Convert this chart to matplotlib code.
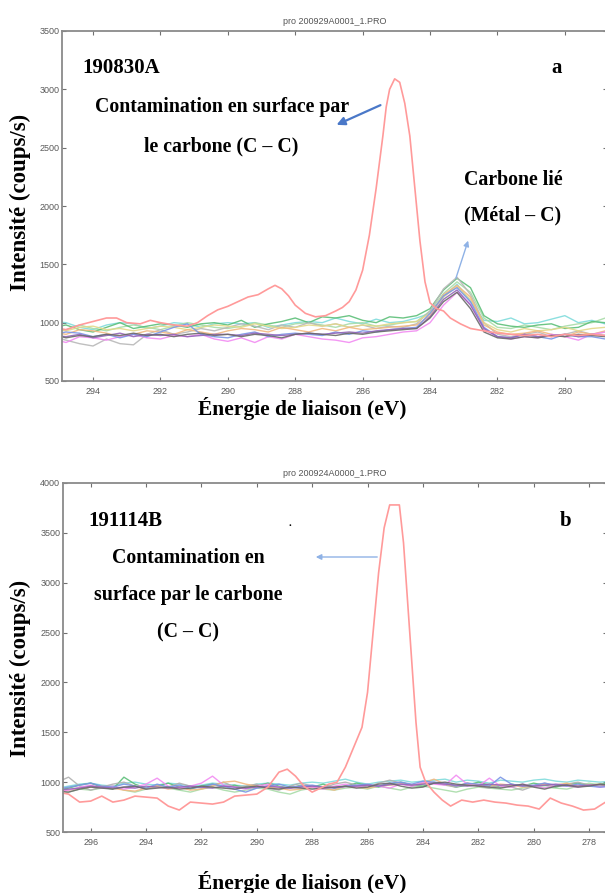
import numpy as np
import matplotlib
matplotlib.use("Agg")
import matplotlib.pyplot as plt

# ---------------- data ----------------
# Panel a (190830A)
xa_grid = np.round(np.arange(295.2, 278.7, -0.4), 1)   # 42 sample energies (eV)

a_cyan = [1010, 1000, 960, 940, 980, 1000, 990, 950, 970, 1000,
          990, 960, 990, 1000, 990, 1000, 960, 980, 1000, 1010,
          1000, 1040, 1010, 990, 1030, 1000, 1010, 1040, 1080, 1220,
          1330, 1180, 1020, 1010, 1040, 990, 1000, 1030, 1060, 1000,
          1020, 990]
a_green = [960, 980, 940, 920, 960, 1000, 950, 970, 990, 980,
           960, 990, 1000, 980, 1020, 960, 990, 1010, 1040, 1000,
           1050, 1040, 1060, 1020, 1000, 1050, 1040, 1060, 1120, 1280,
           1380, 1300, 1060, 990, 970, 960, 980, 990, 950, 960,
           1010, 1000]
a_lgreen = [920, 940, 980, 950, 930, 960, 980, 960, 940, 970,
            1000, 980, 960, 950, 970, 1000, 980, 960, 990, 1000,
            980, 960, 990, 1000, 970, 980, 1000, 1010, 1100, 1250,
            1350, 1260, 1040, 960, 950, 980, 960, 940, 970, 990,
            1000, 1040]
a_gray = [880, 850, 820, 800, 860, 820, 810, 900, 940, 900,
          920, 950, 930, 960, 990, 970, 940, 980, 960, 1000,
          970, 990, 960, 980, 950, 970, 960, 990, 1100, 1290,
          1390, 1240, 1000, 900, 880, 900, 920, 880, 900, 930,
          900, 920]
a_purple = [890, 880, 900, 870, 890, 910, 880, 900, 890, 900,
            880, 890, 900, 900, 890, 910, 900, 890, 900, 910,
            900, 910, 920, 910, 930, 940, 950, 950, 1050, 1200,
            1280, 1150, 950, 880, 870, 900, 880, 890, 900, 880,
            900, 890]
a_magenta = [860, 830, 880, 870, 850, 880, 900, 870, 860, 890,
             880, 900, 860, 840, 870, 830, 880, 860, 900, 880,
             860, 850, 830, 870, 880, 900, 920, 930, 1000, 1150,
             1260, 1160, 940, 880, 860, 880, 870, 900, 880, 850,
             900, 920]
a_blue = [900, 920, 910, 880, 900, 870, 900, 880, 920, 960,
          990, 900, 880, 870, 900, 920, 880, 900, 910, 900,
          890, 920, 900, 930, 920, 940, 950, 960, 1080, 1230,
          1300, 1180, 960, 880, 870, 900, 880, 860, 900, 880,
          880, 860]
a_orange = [920, 900, 940, 930, 910, 880, 900, 930, 920, 900,
            940, 920, 900, 930, 950, 940, 920, 960, 940, 920,
            950, 930, 960, 940, 950, 960, 970, 980, 1060, 1240,
            1320, 1220, 980, 920, 900, 910, 930, 900, 880, 920,
            900, 930]
a_dgray = [900, 870, 890, 880, 900, 890, 910, 890, 900, 880,
           900, 910, 890, 900, 880, 900, 890, 870, 900, 910,
           900, 890, 910, 900, 920, 930, 940, 950, 1040, 1180,
           1260, 1120, 920, 870, 860, 880, 870, 890, 880, 900,
           890, 880]
a_yellow = [950, 930, 960, 970, 940, 950, 930, 950, 970, 960,
            940, 960, 980, 970, 960, 990, 970, 950, 960, 980,
            970, 990, 960, 980, 970, 990, 1000, 1010, 1080, 1220,
            1310, 1200, 1000, 940, 920, 950, 930, 940, 960, 930,
            950, 960]

a_red_x = [295.2, 294.8, 294.4, 294.0, 293.6, 293.3, 293.0, 292.6, 292.3, 292.0,
           291.6, 291.2, 290.9, 290.6, 290.3, 290.0, 289.7, 289.4, 289.1, 288.8,
           288.6, 288.4, 288.2, 288.0, 287.7, 287.4, 287.1, 286.8, 286.6, 286.4,
           286.2, 286.0, 285.8, 285.6, 285.4, 285.3, 285.2, 285.05, 284.9, 284.75,
           284.6, 284.45, 284.3, 284.15, 284.0, 283.8, 283.6, 283.4, 283.1, 282.8,
           282.4, 282.0, 281.6, 281.2, 280.8, 280.4, 280.0, 279.6, 279.2, 278.8]
a_red_y = [960, 940, 980, 1010, 1040, 1040, 1000, 990, 1020, 1000,
           980, 970, 1000, 1060, 1110, 1140, 1180, 1220, 1240, 1290,
           1320, 1290, 1230, 1150, 1080, 1050, 1060, 1100, 1130, 1180,
           1280, 1450, 1750, 2150, 2600, 2850, 3000, 3090, 3060, 2880,
           2600, 2150, 1700, 1350, 1170, 1120, 1100, 1040, 990, 950,
           930, 910, 900, 890, 900, 880, 900, 890, 900, 890]

# Panel b (191114B)
xb_grid = np.round(np.arange(297.2, 277.1, -0.4), 1)   # 51 sample energies (eV)

b_gray = [1000, 1050, 960, 920, 950, 980, 1000, 960, 930, 970,
          950, 990, 960, 940, 970, 1000, 950, 960, 980, 940,
          920, 960, 990, 960, 940, 980, 1000, 970, 950, 990,
          1020, 990, 960, 980, 1000, 970, 950, 990, 960, 940,
          970, 950, 920, 960, 990, 960, 980, 1000, 970, 960,
          980]
b_green = [920, 940, 970, 990, 950, 930, 1050, 980, 940, 960,
           990, 950, 930, 960, 980, 950, 970, 940, 960, 990,
           960, 940, 970, 950, 980, 940, 960, 990, 970, 950,
           980, 1000, 970, 960, 990, 980, 950, 970, 1000, 970,
           950, 980, 960, 990, 970, 950, 980, 990, 970, 980,
           990]
b_magenta = [900, 920, 950, 970, 940, 960, 930, 950, 980, 1040,
             960, 940, 960, 990, 1060, 970, 950, 930, 960, 980,
             950, 940, 960, 950, 930, 960, 980, 950, 970, 960,
             940, 980, 960, 1000, 980, 970, 1070, 980, 960, 1040,
             960, 950, 980, 960, 940, 970, 960, 950, 970, 950,
             960]
b_blue = [930, 950, 970, 990, 960, 950, 980, 960, 940, 980,
          950, 970, 940, 950, 980, 960, 930, 900, 940, 960,
          980, 950, 960, 970, 950, 940, 960, 970, 980, 960,
          990, 1000, 980, 1010, 1000, 990, 960, 990, 980, 960,
          1050, 980, 960, 970, 990, 970, 960, 980, 960, 950,
          960]
b_orange = [900, 920, 940, 950, 960, 940, 920, 910, 940, 960,
            930, 950, 920, 930, 960, 1000, 1010, 980, 960, 950,
            940, 920, 930, 950, 940, 920, 960, 950, 940, 960,
            970, 980, 970, 990, 1030, 980, 960, 990, 970, 960,
            980, 970, 950, 960, 980, 970, 990, 960, 970, 980,
            960]
b_purple = [920, 930, 940, 960, 950, 940, 950, 940, 960, 950,
            940, 950, 960, 950, 940, 960, 950, 940, 950, 960,
            950, 940, 950, 960, 950, 945, 955, 960, 970, 960,
            975, 980, 970, 980, 990, 980, 970, 960, 970, 980,
            970, 975, 965, 960, 970, 980, 970, 960, 970, 975,
            970]
b_dgray = [910, 900, 930, 950, 940, 930, 950, 960, 930, 940,
           950, 930, 940, 960, 950, 940, 930, 950, 960, 940,
           930, 950, 940, 930, 940, 950, 960, 940, 950, 980,
           990, 960, 940, 950, 990, 1000, 980, 970, 960, 950,
           940, 960, 980, 950, 930, 960, 970, 950, 960, 980,
           970]
b_cyan = [940, 960, 980, 990, 970, 960, 990, 1000, 980, 970,
          990, 980, 960, 970, 990, 980, 970, 960, 980, 990,
          980, 970, 990, 1000, 990, 1010, 1030, 1000, 980, 1000,
          1010, 1020, 1000, 1010, 1020, 1030, 1000, 1020, 1010, 990,
          1020, 1010, 1000, 1020, 1030, 1010, 1000, 1020, 1010, 1000,
          1010]
b_lgreen = [880, 900, 930, 920, 940, 960, 920, 900, 930, 960,
            940, 920, 900, 930, 950, 920, 900, 920, 940, 930,
            900, 880, 920, 940, 930, 920, 940, 950, 930, 960,
            940, 920, 950, 960, 940, 920, 900, 930, 950, 940,
            930, 920, 940, 960, 950, 940, 930, 960, 990, 970,
            960]

b_red_x = [297.2, 296.8, 296.4, 296.0, 295.6, 295.2, 294.8, 294.4, 294.0, 293.6,
           293.2, 292.8, 292.4, 292.0, 291.6, 291.2, 290.8, 290.4, 290.0, 289.6,
           289.2, 288.9, 288.6, 288.3, 288.0, 287.7, 287.4, 287.1, 286.8, 286.5,
           286.2, 286.0, 285.8, 285.6, 285.4, 285.2, 285.0, 284.85, 284.7, 284.55,
           284.4, 284.25, 284.1, 283.9, 283.6, 283.3, 283.0, 282.6, 282.2, 281.8,
           281.4, 281.0, 280.6, 280.2, 279.8, 279.4, 279.0, 278.6, 278.2, 277.8,
           277.4]
b_red_y = [900, 880, 800, 810, 860, 800, 820, 860, 850, 840,
           760, 720, 800, 790, 780, 800, 860, 870, 880, 950,
           1100, 1130, 1060, 960, 900, 940, 980, 1000, 1150, 1350,
           1550, 1900, 2500, 3100, 3550, 3780, 3780, 3780, 3400, 2800,
           2200, 1600, 1150, 1000, 900, 820, 760, 820, 800, 820,
           800, 790, 770, 760, 730, 840, 790, 760, 720, 730,
           800]

a_ticks_x = [294, 292, 290, 288, 286, 284, 282, 280]
b_ticks_x = [296, 294, 292, 290, 288, 286, 284, 282, 280, 278]
a_ticks_y = [500, 1000, 1500, 2000, 2500, 3000, 3500]
b_ticks_y = [500, 1000, 1500, 2000, 2500, 3000, 3500, 4000]

# ---------------- style ----------------
W, H = 605, 893
fig = plt.figure(figsize=(W / 100, H / 100), dpi=100)
fig.patch.set_facecolor("white")

SERIF = ["Liberation Serif", "DejaVu Serif"]
SANS = ["Liberation Sans", "DejaVu Sans"]
RED = "#ff9a9a"


def fx(px):
    return px / W


def fy(py):
    return 1 - py / H


def style_axes(ax, xlim, ylim, xt, yt, title):
    ax.set_xlim(*xlim)
    ax.set_ylim(*ylim)
    ax.set_xticks(xt)
    ax.set_yticks(yt)
    ax.set_xticklabels([str(v) for v in xt], fontfamily=SANS)
    ax.set_yticklabels([str(v) for v in yt], fontfamily=SANS)
    ax.tick_params(direction="in", length=3, width=0.8, colors="#707070",
                   labelcolor="#5a5a5a", labelsize=6.5, top=True, right=True)
    ax.tick_params(axis="x", pad=4)
    ax.tick_params(axis="y", pad=2)
    for s in ax.spines.values():
        s.set_color("#8a8a8a")
        s.set_linewidth(1.3)
    ax.set_title(title, fontsize=6.5, color="#555555", pad=5, fontfamily=SANS)


def add_axes_px(left, top, right, bottom):
    return fig.add_axes([fx(left), fy(bottom), fx(right) - fx(left), (bottom - top) / H])


# ---- panel a ----
axa = add_axes_px(62, 31, 607, 381)
a_series = [(a_cyan, "#80dcdc"), (a_lgreen, "#a8dca8"), (a_green, "#5cbf78"),
            (a_gray, "#b8b8b8"), (a_yellow, "#e3d98a"), (a_orange, "#f2b880"),
            (a_magenta, "#f28cf2"), (a_blue, "#7a95e6"), (a_purple, "#9466b8"),
            (a_dgray, "#6a6a6a")]
for ys, c in a_series:
    axa.plot(xa_grid, ys, color=c, lw=1.0, alpha=0.9)
axa.plot(a_red_x, a_red_y, color=RED, lw=1.2)
style_axes(axa, (294.92, 278.75), (500, 3500), a_ticks_x, a_ticks_y,
           "pro 200929A0001_1.PRO")

# ---- panel b ----
axb = add_axes_px(63, 483, 607, 832)
b_series = [(b_cyan, "#80dcdc"), (b_lgreen, "#a8dca8"), (b_green, "#5cbf78"),
            (b_gray, "#b0b0b0"), (b_orange, "#f2b880"), (b_magenta, "#f28cf2"),
            (b_blue, "#7a95e6"), (b_purple, "#9466b8"), (b_dgray, "#6a6a6a")]
for ys, c in b_series:
    axb.plot(xb_grid, ys, color=c, lw=1.0, alpha=0.9)
axb.plot(b_red_x, b_red_y, color=RED, lw=1.2)
style_axes(axb, (297.0, 277.35), (500, 4000), b_ticks_x, b_ticks_y,
           "pro 200924A0000_1.PRO")

# ---------------- text overlays ----------------
def t(px, py, s, size, ha="center"):
    fig.text(fx(px), fy(py), s, fontsize=size, fontweight="bold",
             fontfamily=SERIF, ha=ha, va="center", color="black")


# axis labels
t(302, 408, "Énergie de liaison (eV)", 15.5)
t(302, 883, "Énergie de liaison (eV)", 15.5)
fig.text(fx(20), fy(202), "Intensité (coups/s)", rotation=90, fontsize=16.5,
         fontweight="bold", fontfamily=SERIF, ha="center", va="center")
fig.text(fx(20), fy(668), "Intensité (coups/s)", rotation=90, fontsize=16.5,
         fontweight="bold", fontfamily=SERIF, ha="center", va="center")

# panel a annotations
t(82, 68, "190830A", 15, ha="left")
t(557, 68, "a", 15)
t(222, 107, "Contamination en surface par", 14.3)
t(221, 146, "le carbone (C – C)", 14.3)
t(513, 180, "Carbone lié", 14.3)
t(513, 215, "(Métal – C)", 14.3)
fig.add_artist(matplotlib.patches.FancyArrowPatch(
    (fx(383), fy(104)), (fx(334), fy(126)), transform=fig.transFigure,
    arrowstyle="-|>", mutation_scale=12, color="#4a78c8", lw=1.6))
fig.add_artist(matplotlib.patches.FancyArrowPatch(
    (fx(455), fy(281)), (fx(469), fy(238)), transform=fig.transFigure,
    arrowstyle="-|>", mutation_scale=8, color="#8fb2e6", lw=1.0))

# panel b annotations
t(88, 521, "191114B", 15, ha="left")
t(566, 521, "b", 15)
t(290, 524, ".", 8)
t(188, 558, "Contamination en", 14.3)
t(188, 595, "surface par le carbone", 14.3)
t(188, 632, "(C – C)", 14.3)
fig.add_artist(matplotlib.patches.FancyArrowPatch(
    (fx(380), fy(557)), (fx(313), fy(557)), transform=fig.transFigure,
    arrowstyle="-|>", mutation_scale=8, color="#8fb2e6", lw=1.0))

fig.savefig("out.png", dpi=100, facecolor="white")
